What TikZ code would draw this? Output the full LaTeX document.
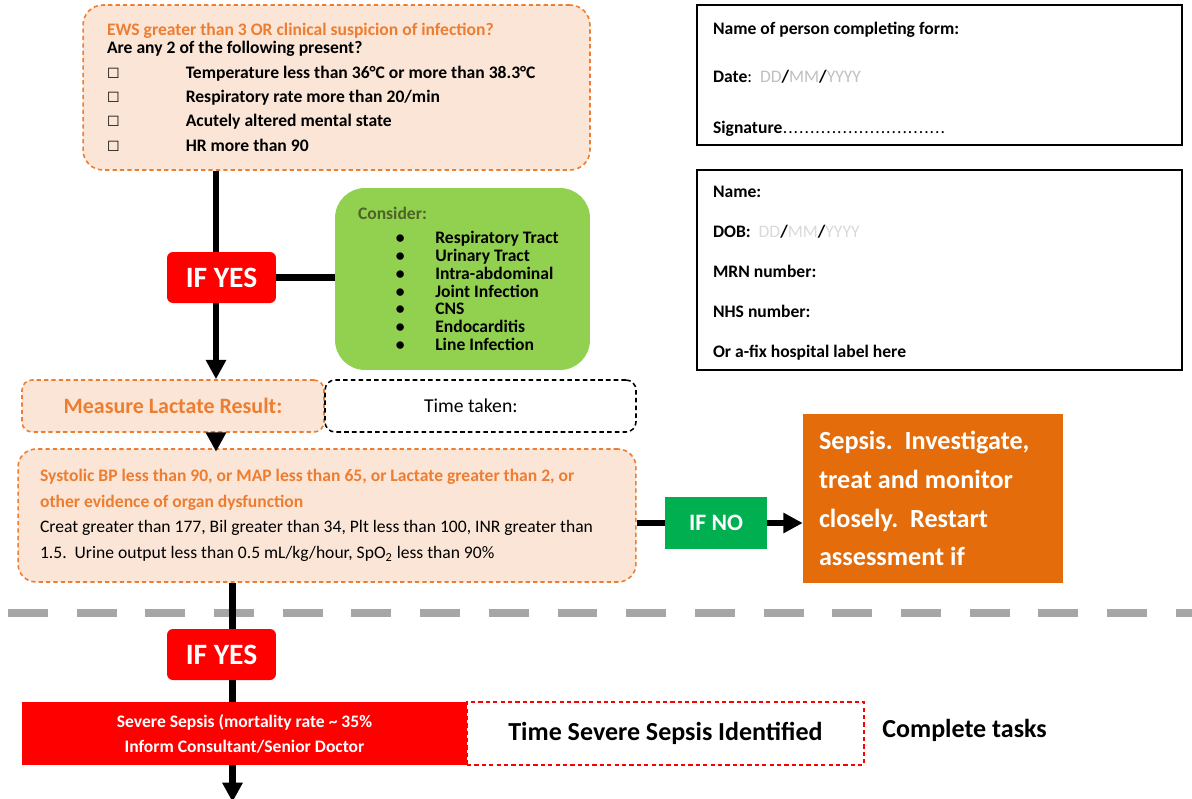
\documentclass[tikz,border=0pt]{standalone}
\usepackage{fontspec}
\setmainfont{Carlito}
\newfontfamily\symfont{DejaVu Sans}
\usepackage{tikz}
\usetikzlibrary{arrows.meta}
\usepackage{xcolor}
\definecolor{peach}{HTML}{FBE5D6}
\definecolor{sepsorange}{HTML}{ED7D31}
\definecolor{deeporange}{HTML}{E46C0A}
\definecolor{leafgreen}{HTML}{92D050}
\definecolor{olivetext}{HTML}{4F6228}
\definecolor{gogreen}{HTML}{00B050}
\definecolor{alertred}{HTML}{FF0000}
\definecolor{hintgray}{HTML}{BFBFBF}
\definecolor{palegray}{HTML}{D9D9D9}
\definecolor{dividergray}{HTML}{A6A6A6}

\newcommand{\chkbox}{\makebox[44.8pt][l]{\symfont\fontsize{8}{8}\selectfont ☐}}
\newcommand{\bulitem}{\hspace*{21.5pt}\makebox[22.5pt][l]{•}}
\newcommand{\ddmm}[1]{{\mdseries\color{#1}DD}/{\mdseries\color{#1}MM}/{\mdseries\color{#1}YYYY}}
\newcommand{\sigdots}{{\mdseries\hbox to 96pt{\leaders\hbox to 3.1pt{\hss.\hss}\hfill}}}

\begin{document}
\begin{tikzpicture}[x=0.02cm,y=-0.02cm,>={Triangle[length=11pt,width=11pt]},
  flow/.style={line width=3.6pt},
  dashbox/.style={draw=sepsorange,fill=peach,line width=0.9pt,dash pattern=on 2.4pt off 1.8pt,rounded corners=0.36cm},
  formbox/.style={draw=black,line width=1pt,minimum width=9.7cm,text width=9.06cm,align=flush left},
  yesbox/.style={fill=alertred,rounded corners=0.12cm,minimum width=2.18cm,minimum height=1.02cm,inner sep=0pt,
    text=white,font=\fontsize{16.8}{16.8}\selectfont\bfseries}]
\useasboundingbox (0,0) rectangle (1192,798);

% divider
\draw[dividergray,line width=5.1pt,dash pattern=on 22.7pt off 16.4pt] (8,613) -- (1192,613);

% screening
\node[dashbox,rounded corners=0.4cm,minimum width=10.14cm,minimum height=3.3cm,text width=9.18cm,align=flush left,
  font=\fontsize{10}{13.9}\selectfont\bfseries] (ews) at (336.5,87.5)
  {\textcolor{sepsorange}{EWS greater than 3 OR clinical suspicion of infection?}\\[-3.7pt]
   Are any 2 of the following present?\\
   \chkbox Temperature less than 36°C or more than 38.3°C\\
   \chkbox Respiratory rate more than 20/min\\
   \chkbox Acutely altered mental state\\
   \chkbox HR more than 90};
\node[yesbox] (yesA) at (221.5,277.5) {IF YES};
\node[fill=leafgreen,rounded corners=0.6cm,minimum width=5.1cm,minimum height=3.64cm,text width=4.18cm,align=flush left,
  font=\fontsize{10}{10.2}\selectfont\bfseries] (consider) at (462.5,279)
  {\textcolor{olivetext}{Consider:}\\[3.4pt]
   \bulitem Respiratory Tract\\
   \bulitem Urinary Tract\\
   \bulitem Intra-abdominal\\
   \bulitem Joint Infection\\
   \bulitem CNS\\
   \bulitem Endocarditis\\
   \bulitem Line Infection};

% lactate and organ dysfunction
\node[dashbox,rounded corners=0.2cm,minimum width=6.04cm,minimum height=1.04cm,text=sepsorange,
  font=\fontsize{12.5}{12.5}\selectfont\bfseries] (lactate) at (173,406) {Measure Lactate Result:};
\node[draw,line width=0.9pt,dash pattern=on 2.6pt off 1.8pt,rounded corners=0.2cm,minimum width=6.22cm,minimum height=1.04cm,
  font=\fontsize{11.2}{11.2}\selectfont] (taken) at (480.5,406) {Time taken:\kern11pt};
\node[dashbox,minimum width=12.36cm,minimum height=2.66cm,text width=11.48cm,align=flush left,
  font=\fontsize{10}{14.5}\selectfont] (organ) at (327,515.5)
  {\textcolor{sepsorange}{\bfseries Systolic BP less than 90, or MAP less than 65, or Lactate greater than 2, or}\\
   \textcolor{sepsorange}{\bfseries other evidence of organ dysfunction}\\
   Creat greater than 177, Bil greater than 34, Plt less than 100, INR greater than\\
   1.5.\ \ Urine output less than 0.5 mL/kg/hour, SpO\textsubscript{2} less than 90\%};
\node[fill=gogreen,minimum width=2.04cm,minimum height=1.04cm,text=white,
  font=\fontsize{13.4}{13.4}\selectfont\bfseries] (ifno) at (716,523) {IF NO};
\node[fill=deeporange,minimum width=5.2cm,minimum height=3.38cm,text width=4.56cm,align=flush left,text=white,
  font=\fontsize{14.9}{22.1}\selectfont\bfseries] (restart) at (933,498.5)
  {Sepsis.\ \ Investigate,\\ treat and monitor\\ closely.\ \ Restart\\ assessment if};

% form fields
\node[formbox,minimum height=2.8cm,font=\fontsize{10}{27.2}\selectfont\bfseries] (completer) at (939.5,75)
  {\rule{0pt}{12pt}Name of person completing form:\\
   Date{\mdseries :}\ \ \ddmm{hintgray}\\[1.7pt]
   Signature\sigdots};
\node[formbox,minimum height=4cm,font=\fontsize{10}{22.7}\selectfont\bfseries] (patient) at (939.5,270)
  {\rule{0pt}{10pt}Name:\\
   DOB:\ \ \ddmm{palegray}\\
   MRN number:\\
   NHS number:\\
   Or a-fix hospital label here};

% severe sepsis
\node[yesbox] (yesB) at (221.5,654.5) {IF YES};
\node[fill=alertred,minimum width=8.9cm,minimum height=1.26cm,align=center,text=white,
  font=\fontsize{10}{14.2}\selectfont\bfseries] (severe) at (244.5,733.5)
  {Severe Sepsis (mortality rate \textasciitilde{} 35\%\\ Inform Consultant/Senior Doctor};
\node[draw=alertred,line width=1.1pt,dash pattern=on 2.4pt off 1.8pt,fill=white,minimum width=7.94cm,minimum height=1.26cm,
  font=\fontsize{14.8}{14.8}\selectfont\bfseries] (identified) at (665.5,733.5) {Time Severe Sepsis Identified};
\node[anchor=west,inner sep=0pt,font=\fontsize{14.8}{14.8}\selectfont\bfseries] (tasks) at (882,730) {Complete tasks};

% connectors
\coordinate (spineA) at (216,0);
\coordinate (spineB) at (232.5,0);
\coordinate (tail) at (232.5,802);
\draw[flow] (ews.south -| spineA) -- (yesA.north -| spineA);
\draw[flow,->] (yesA.south -| spineA) -- (lactate.north -| spineA);
\draw[flow] (yesA.east) -- (consider.west |- yesA.east);
\draw[flow,->] (lactate.south -| spineA) -- ([yshift=-2pt]organ.north -| spineA);
\draw[flow] (organ.east |- ifno.west) -- (ifno.west);
\draw[flow,->] (ifno.east) -- (restart.west |- ifno.east);
\draw[flow] (organ.south -| spineB) -- (yesB.north -| spineB);
\draw[flow] (yesB.south -| spineB) -- (severe.north -| spineB);
\draw[flow,->] (severe.south -| spineB) -- (tail);
\end{tikzpicture}
\end{document}
